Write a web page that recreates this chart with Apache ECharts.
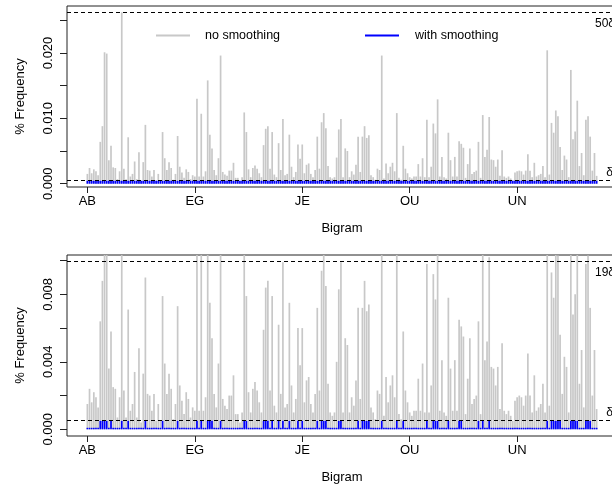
<!DOCTYPE html>
<html><head><meta charset="utf-8">
<script src="https://cdn.jsdelivr.net/npm/echarts@6/dist/echarts.min.js"></script>
<style>html,body{margin:0;padding:0;background:#fff}#c{width:612px;height:491px}</style>
</head><body><div id="c"></div>
<script>
// ---- data ----
const bigrams = [
 'AB','AC','AD','AE','AF','AG','AH','AI','AK','AL','AM','AN','AP','AR','AS','AT','AU','AV','AW','AY',
 'BA','BE','BI','BL','BO','BR','BU','BY',
 'CA','CE','CH','CI','CK','CL','CO','CR','CT','CU',
 'DA','DE','DI','DO','DR','DS','DU','DY',
 'EA','EC','ED','EE','EG','EL','EM','EN','EP','ER','ES','ET','EV','EW','EX','EY',
 'FA','FE','FF','FI','FL','FO','FR','FT','FU',
 'GA','GE','GH','GI','GL','GO','GR','GS','GU',
 'HA','HE','HI','HO','HT','HU','HY',
 'IC','ID','IE','IF','IG','IL','IM','IN','IO','IR','IS','IT','IV',
 'JE','JO','JU',
 'KE','KI','KN','KS',
 'LA','LD','LE','LF','LI','LL','LO','LS','LT','LU','LY',
 'MA','ME','MI','MM','MO','MP','MS','MU','MY',
 'NA','NC','ND','NE','NG','NI','NK','NO','NS','NT','NY',
 'OA','OB','OC','OD','OF','OK','OL','OM','ON','OO','OP','OR','OU','OV','OW',
 'PA','PE','PH','PI','PL','PO','PP','PR','PU',
 'QU',
 'RA','RC','RD','RE','RI','RK','RL','RM','RN','RO','RS','RT','RY',
 'SA','SC','SE','SH','SI','SO','SP','SS','ST','SU','SY',
 'TA','TE','TH','TI','TO','TR','TS','TT','TU','TW','TY',
 'UC','UL','UN','UP','UR','US','UT',
 'VA','VE','VI','VO','VY',
 'WA','WE','WH','WI','WL','WN','WO','WR','WS',
 'XA','XC','XE','XI','XP','XT',
 'YA','YE','YI','YL','YM','YO','YP','YS','YT',
 'ZA','ZE','ZI','ZO'
];
const tickBigrams = ['AB','EG','JE','OU','UN'];

const noSmoothing = [
 0.0015,0.0024,0.0016,0.0022,0.0019,0.0013,0.0064,0.0088,0.0201,0.0199,
 0.0036,0.0058,0.0025,0.0024,0.0007,0.0019,0.0262,0.0023,0.0007,0.0071,
 0.0011,0.0015,0.0034,0.0007,0.0048,0.0004,0.0033,0.0090,0.0021,0.0020,
 0.0011,0.0021,0.0005,0.0015,0.0005,0.0079,0.0039,0.0021,0.0033,0.0024,
 0.0006,0.0015,0.0073,0.0026,0.0017,0.0009,0.0022,0.0018,0.0007,0.0013,
 0.0011,0.0130,0.0011,0.0107,0.0011,0.0019,0.0158,0.0075,0.0054,0.0021,
 0.0013,0.0039,0.0196,0.0018,0.0014,0.0012,0.0020,0.0020,0.0032,0.0009,
 0.0009,0.0004,0.0010,0.0109,0.0079,0.0022,0.0010,0.0024,0.0028,0.0023,
 0.0016,0.0010,0.0059,0.0084,0.0088,0.0023,0.0079,0.0014,0.0010,0.0062,
 0.0021,0.0099,0.0013,0.0015,0.0075,0.0026,0.0010,0.0018,0.0060,0.0038,
 0.0060,0.0016,0.0029,0.0031,0.0015,0.0010,0.0021,0.0072,0.0023,0.0094,
 0.0108,0.0085,0.0027,0.0010,0.0008,0.0010,0.0040,0.0083,0.0099,0.0010,
 0.0054,0.0050,0.0010,0.0019,0.0014,0.0029,0.0072,0.0018,0.0072,0.0088,
 0.0070,0.0074,0.0013,0.0010,0.0006,0.0023,0.0021,0.0196,0.0008,0.0031,
 0.0016,0.0026,0.0032,0.0019,0.0108,0.0009,0.0006,0.0058,0.0023,0.0016,
 0.0010,0.0008,0.0011,0.0011,0.0030,0.0011,0.0039,0.0010,0.0098,0.0010,
 0.0026,0.0092,0.0077,0.0129,0.0011,0.0041,0.0010,0.0008,0.0078,0.0036,
 0.0011,0.0041,0.0011,0.0065,0.0061,0.0055,0.0009,0.0030,0.0054,0.0015,
 0.0018,0.0020,0.0064,0.0009,0.0105,0.0041,0.0052,0.0102,0.0037,0.0036,
 0.0026,0.0037,0.0012,0.0051,0.0011,0.0009,0.0011,0.0008,0.0005,0.0017,
 0.0019,0.0020,0.0019,0.0014,0.0020,0.0045,0.0020,0.0010,0.0032,0.0011,
 0.0013,0.0015,0.0027,0.0010,0.0204,0.0014,0.0093,0.0078,0.0112,0.0103,
 0.0056,0.0021,0.0043,0.0037,0.0010,0.0174,0.0068,0.0080,0.0127,0.0027,
 0.0047,0.0013,0.0098,0.0103,0.0072,0.0020,0.0047,0.0012
];

const withSmoothingTop = [
 0.00045,0.00045,0.00045,0.00045,0.00045,0.00045,0.00045,0.00045,0.00045,0.00045,
 0.00045,0.00045,0.00045,0.00045,0.00045,0.00045,0.00045,0.00045,0.00045,0.00045,
 0.00045,0.00045,0.00045,0.00045,0.00045,0.00045,0.00045,0.00045,0.00045,0.00045,
 0.00045,0.00045,0.00045,0.00045,0.00045,0.00045,0.00045,0.00045,0.00045,0.00045,
 0.00045,0.00045,0.00045,0.00045,0.00045,0.00045,0.00045,0.00045,0.00045,0.00045,
 0.00045,0.00045,0.00045,0.00045,0.00045,0.00045,0.00045,0.00045,0.00045,0.00045,
 0.00045,0.00045,0.00045,0.00045,0.00045,0.00045,0.00045,0.00045,0.00045,0.00045,
 0.00045,0.00045,0.00045,0.00045,0.00045,0.00045,0.00045,0.00045,0.00045,0.00045,
 0.00045,0.00045,0.00045,0.00045,0.00045,0.00045,0.00045,0.00045,0.00045,0.00045,
 0.00045,0.00045,0.00045,0.00045,0.00045,0.00045,0.00045,0.00045,0.00045,0.00045,
 0.00045,0.00045,0.00045,0.00045,0.00045,0.00045,0.00045,0.00045,0.00045,0.00045,
 0.00045,0.00045,0.00045,0.00045,0.00045,0.00045,0.00045,0.00045,0.00045,0.00045,
 0.00045,0.00045,0.00045,0.00045,0.00045,0.00045,0.00045,0.00045,0.00045,0.00045,
 0.00045,0.00045,0.00045,0.00045,0.00045,0.00045,0.00045,0.00045,0.00045,0.00045,
 0.00045,0.00045,0.00045,0.00045,0.00045,0.00045,0.00045,0.00045,0.00045,0.00045,
 0.00045,0.00045,0.00045,0.00045,0.00045,0.00045,0.00045,0.00045,0.00045,0.00045,
 0.00045,0.00045,0.00045,0.00045,0.00045,0.00045,0.00045,0.00045,0.00045,0.00045,
 0.00045,0.00045,0.00045,0.00045,0.00045,0.00045,0.00045,0.00045,0.00045,0.00045,
 0.00045,0.00045,0.00045,0.00045,0.00045,0.00045,0.00045,0.00045,0.00045,0.00045,
 0.00045,0.00045,0.00045,0.00045,0.00045,0.00045,0.00045,0.00045,0.00045,0.00045,
 0.00045,0.00045,0.00045,0.00045,0.00045,0.00045,0.00045,0.00045,0.00045,0.00045,
 0.00045,0.00045,0.00045,0.00045,0.00045,0.00045,0.00045,0.00045,0.00045,0.00045,
 0.00045,0.00045,0.00045,0.00045,0.00045,0.00045,0.00045,0.00045,0.00045,0.00045,
 0.00045,0.00045,0.00045,0.00045,0.00045,0.00045,0.00045,0.00045
];

const withSmoothingBottom = [
 0,0,0,0,0,0,0.0005,0.0005,0.0005,0.0005,
 0,0.0005,0,0,0,0,0.0005,0,0,0.0005,
 0,0,0,0,0,0,0,0.0005,0,0,
 0,0,0,0,0,0.0005,0,0,0,0,
 0,0,0.0005,0,0,0,0,0,0,0,
 0,0.0005,0,0.0005,0,0,0.0005,0.0005,0.0005,0,
 0,0,0.0005,0,0,0,0,0,0,0,
 0,0,0,0.0005,0.0005,0,0,0,0,0,
 0,0,0.0005,0.0005,0.0005,0,0.0005,0,0,0.0005,
 0,0.0005,0,0,0.0005,0,0,0,0.0005,0,
 0.0005,0,0,0,0,0,0,0.0005,0,0.0005,
 0.0005,0.0005,0,0,0,0,0,0.0005,0.0005,0,
 0,0,0,0,0,0,0.0005,0,0.0005,0.0005,
 0.0005,0.0005,0,0,0,0,0,0.0005,0,0,
 0,0,0,0,0.0005,0,0,0.0005,0,0,
 0,0,0,0,0,0,0,0,0.0005,0,
 0,0.0005,0.0005,0.0005,0,0,0,0,0.0005,0,
 0,0,0,0.0005,0.0005,0,0,0,0,0,
 0,0,0.0005,0,0.0005,0,0,0.0005,0,0,
 0,0,0,0,0,0,0,0,0,0,
 0,0,0,0,0,0,0,0,0,0,
 0,0,0,0,0.0005,0,0.0005,0.0005,0.0005,0.0005,
 0.0005,0,0,0,0,0.0005,0.0005,0.0005,0.0005,0,
 0,0,0.0005,0.0005,0.0005,0,0,0
];

const delta = 0.000523;
const refMultiples = [50, 19];
const yRanges = [[-0.000502, 0.027177], [-0.000397, 0.010334]];
const yTicks = [[0, 0.005, 0.010, 0.015, 0.020, 0.025], [0, 0.002, 0.004, 0.006, 0.008, 0.010]];
const yLabels = [[0, 0.010, 0.020], [0, 0.004, 0.008]];
const blueSeries = [withSmoothingTop, withSmoothingBottom];

// ---- chart ----
const FONT = 'Liberation Sans, Arial, Helvetica, sans-serif';
const n = bigrams.length;
const xMin = -0.04 * (n - 1), xMax = (n - 1) * 1.04;
const tickIdx = tickBigrams.map(b => bigrams.indexOf(b));
const gridTops = [6, 255];
const dash = {type: [4, 3], color: '#000', width: 1};
const refLabel = {show: true, fontSize: 12, color: '#000', fontFamily: FONT};

const grids = [], xAxes = [], yAxes = [], series = [];
for (let k = 0; k < 2; k++) {
  grids.push({left: 67, top: gridTops[k], width: 550, height: 181, show: true,
    outerBoundsMode: 'none', containLabel: false,
    borderColor: '#222', borderWidth: 1, backgroundColor: 'transparent'});
  xAxes.push({type: 'value', gridIndex: k, min: xMin, max: xMax,
    name: 'Bigram', nameLocation: 'middle', nameGap: 35,
    nameTextStyle: {fontSize: 13, color: '#000', fontFamily: FONT},
    axisLine: {show: false, onZero: false}, splitLine: {show: false},
    axisTick: {show: true, inside: false, length: 6, customValues: tickIdx, lineStyle: {color: '#222'}},
    axisLabel: {customValues: tickIdx, formatter: v => bigrams[Math.round(v)], fontSize: 13,
      color: '#000', margin: 8, fontFamily: FONT}});
  yAxes.push({type: 'value', gridIndex: k, min: yRanges[k][0], max: yRanges[k][1],
    name: '% Frequency', nameLocation: 'middle', nameRotate: 90, nameGap: 40,
    nameTextStyle: {fontSize: 13, color: '#000', fontFamily: FONT},
    axisLine: {show: false, onZero: false}, splitLine: {show: false},
    axisTick: {show: true, inside: false, length: 7, customValues: yTicks[k], lineStyle: {color: '#222'}},
    axisLabel: {customValues: yLabels[k], rotate: 90, formatter: v => v.toFixed(3), fontSize: 13,
      color: '#000', margin: 12, fontFamily: FONT}});
  series.push({name: 'no smoothing', type: 'bar', xAxisIndex: k, yAxisIndex: k,
    data: noSmoothing.map((v, i) => [i, v]), barWidth: 1.7,
    itemStyle: {color: '#c8c8c8'}, clip: true,
    markLine: {silent: true, symbol: 'none', animation: false, precision: 8, lineStyle: dash,
      data: [{yAxis: delta * refMultiples[k],
        label: Object.assign({}, refLabel, {formatter: refMultiples[k] + 'δ',
          position: 'insideEndBottom', distance: [2, 5]})}]}});
  series.push({name: 'with smoothing', type: 'bar', xAxisIndex: k, yAxisIndex: k,
    data: blueSeries[k].map((v, i) => [i, v]), barWidth: 1.7, barGap: '-100%',
    barMinHeight: k === 1 ? 1.5 : 0,
    itemStyle: {color: '#0000ff'}, clip: true, z: 3,
    markLine: {silent: true, symbol: 'none', animation: false, precision: 8, lineStyle: dash,
      data: [{yAxis: delta,
        label: Object.assign({}, refLabel, {formatter: 'δ', position: 'insideEndTop', distance: [4, 2]})}]}});
}

const chart = echarts.init(document.getElementById('c'), null, {renderer: 'canvas'});
chart.setOption({
  animation: false,
  textStyle: {fontFamily: FONT},
  grid: grids, xAxis: xAxes, yAxis: yAxes, series: series,
  legend: [
    {data: ['no smoothing'], left: 151, top: 24, itemWidth: 34, itemHeight: 2, icon: 'rect',
     selectedMode: false, textStyle: {fontSize: 12.5, color: '#000', padding: [0, 0, 0, 10]}},
    {data: ['with smoothing'], left: 360, top: 24, itemWidth: 34, itemHeight: 2, icon: 'rect',
     selectedMode: false, textStyle: {fontSize: 12.5, color: '#000', padding: [0, 0, 0, 11]}}
  ]
});
</script>
</body></html>
